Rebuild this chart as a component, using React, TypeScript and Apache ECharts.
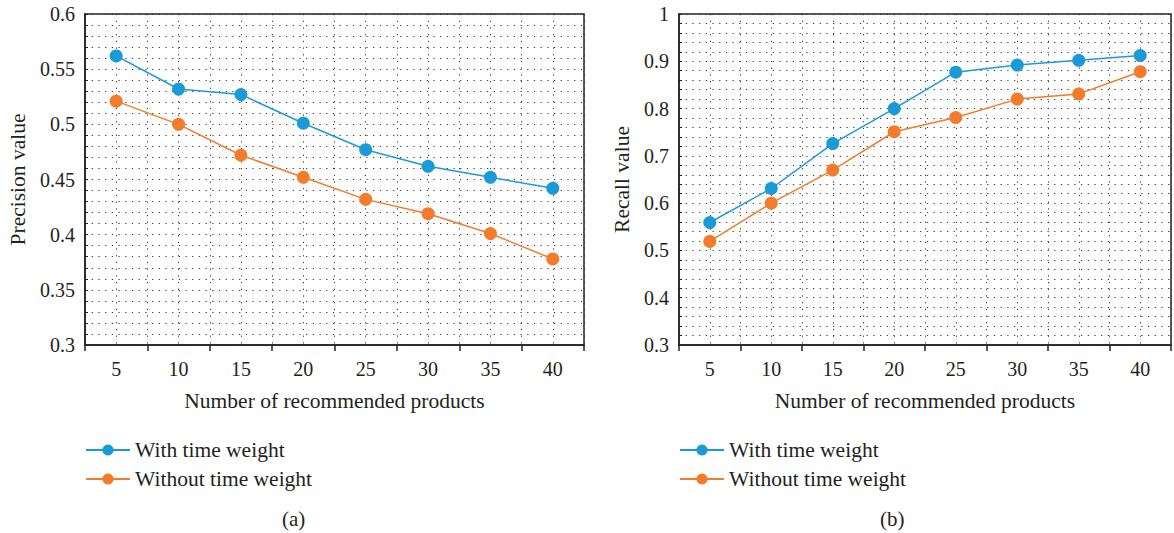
import React, { useEffect, useRef } from "react";
import * as echarts from "echarts";

const categories = [5, 10, 15, 20, 25, 30, 35, 40];
const precisionWith = [0.562, 0.532, 0.527, 0.501, 0.477, 0.462, 0.452, 0.442];
const precisionWithout = [0.521, 0.5, 0.472, 0.452, 0.432, 0.419, 0.401, 0.378];
const recallWith = [0.559, 0.631, 0.726, 0.8, 0.877, 0.892, 0.902, 0.912];
const recallWithout = [0.519, 0.6, 0.67, 0.751, 0.781, 0.82, 0.831, 0.878];
const seriesNames = ["With time weight", "Without time weight"];
const captions = ["(a)", "(b)"];
const yNames = ["Precision value", "Recall value"];
const xName = "Number of recommended products";

const BLUE = "#1a9bd7";
const ORANGE = "#f37b2b";
const FONT = "Liberation Serif";
const TXT = "#231f20";

export default function App() {
  const ref = useRef<HTMLDivElement>(null);
  useEffect(() => {
    document.body.style.margin = "0";
    const chart = echarts.init(ref.current!, null, { renderer: "svg" });
    const grids = [
      { left: 85, top: 14, width: 499, height: 331 },
      { left: 679, top: 14, width: 499, height: 331 },
    ];
    const dotted = { color: "#333", width: 1, type: [1.2, 5.5] as any };
    const xAxis: any[] = [];
    const yAxis: any[] = [];
    grids.forEach((g, gi) => {
      xAxis.push({
        gridIndex: gi,
        type: "value",
        min: 2.5,
        max: 42.5,
        interval: 2.5,
        name: xName,
        nameLocation: "middle",
        nameGap: 45,
        nameTextStyle: { fontFamily: FONT, fontSize: 21.5, color: TXT },
        axisLine: { show: true, lineStyle: { color: "#222", width: 1.5 } },
        axisTick: { show: false },
        axisLabel: {
          fontFamily: FONT,
          fontSize: 20,
          color: TXT,
          margin: 14,
          formatter: (v: number) => (Math.abs(v % 5) < 1e-9 ? String(v) : ""),
        },
        splitLine: { show: true, lineStyle: dotted },
      });
      xAxis.push({
        gridIndex: gi,
        type: "value",
        min: 2.5,
        max: 42.5,
        interval: 5,
        position: "bottom",
        axisLine: { show: false },
        axisTick: { show: true, length: 6, lineStyle: { color: "#222", width: 1.5 } },
        axisLabel: { show: false },
        splitLine: { show: false },
      });
      const isP = gi === 0;
      yAxis.push({
        gridIndex: gi,
        type: "value",
        min: 0.3,
        max: isP ? 0.6 : 1,
        interval: isP ? 0.05 : 0.1,
        name: yNames[gi],
        nameLocation: "middle",
        nameGap: isP ? 56 : 46,
        nameTextStyle: { fontFamily: FONT, fontSize: 21.5, color: TXT },
        axisLine: { show: true, lineStyle: { color: "#222", width: 1.5 } },
        axisTick: { show: true, inside: true, length: 3, lineStyle: { color: "#222" } },
        minorTick: { show: true, splitNumber: 5, length: 3, lineStyle: { color: "#222" } },
        axisLabel: {
          fontFamily: FONT,
          fontSize: 20,
          color: TXT,
          margin: 10,
          formatter: (v: number) => String(+v.toFixed(2)),
        },
        splitLine: { show: true, lineStyle: dotted },
        minorSplitLine: { show: true, lineStyle: dotted },
      });
    });
    const mk = (name: string, vals: number[], color: string, gi: number) => ({
      name,
      type: "line",
      xAxisIndex: gi * 2,
      yAxisIndex: gi,
      data: categories.map((c, i) => [c, vals[i]]),
      symbol: "circle",
      symbolSize: 13,
      itemStyle: { color },
      lineStyle: { color, width: 1.5 },
    });
    chart.setOption({
      animation: false,
      grid: grids.map((g) => ({ ...g, show: true, borderColor: "#222", borderWidth: 1.5, backgroundColor: "transparent" })),
      xAxis,
      yAxis,
      legend: [
        { left: 85, top: 439 },
        { left: 679, top: 439 },
      ].map((p, i) => ({
        ...p,
        orient: "vertical",
        padding: 0,
        itemWidth: 44,
        itemHeight: 14,
        itemGap: 7,
        data: seriesNames.map((n) => n + (i === 1 ? " " : "")),
        textStyle: { fontFamily: FONT, fontSize: 21.5, color: TXT },
        formatter: (n: string) => n.trim(),
      })),
      graphic: [
        { type: "text", left: 295 - 13, top: 508, style: { text: captions[0], font: `21px "${FONT}"`, fill: TXT } },
        { type: "text", left: 893 - 13, top: 508, style: { text: captions[1], font: `21px "${FONT}"`, fill: TXT } },
      ],
      series: [
        mk(seriesNames[0], precisionWith, BLUE, 0),
        mk(seriesNames[1], precisionWithout, ORANGE, 0),
        mk(seriesNames[0] + " ", recallWith, BLUE, 1),
        mk(seriesNames[1] + " ", recallWithout, ORANGE, 1),
      ],
    });
    return () => chart.dispose();
  }, []);
  return <div ref={ref} style={{ width: 1174, height: 533 }} />;
}
